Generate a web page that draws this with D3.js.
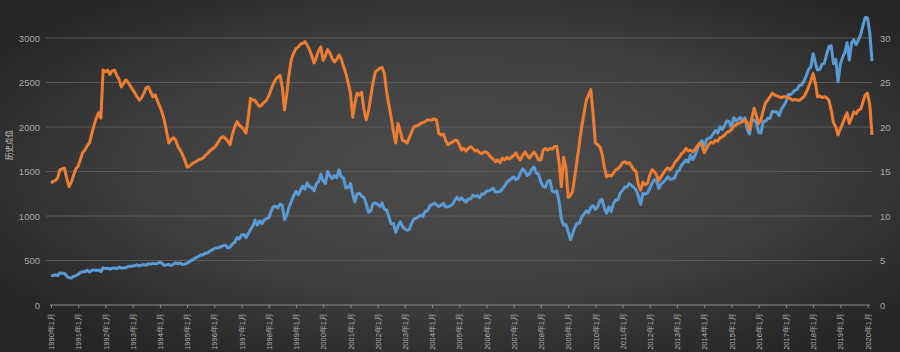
<!DOCTYPE html>
<html>
<head>
<meta charset="utf-8">
<script src="https://cdn.jsdelivr.net/npm/d3@7"></script>
<style>
  html, body { margin: 0; padding: 0; background: #2a2a2a; }
  svg { display: block; font-family: "Noto Sans CJK SC", "Noto Sans", sans-serif; }
</style>
</head>
<body>
<div id="chart"></div>
<script>
// --------------------------------------
//  Data
// --------------------------------------

// 标普500 月末点位 1990年1月 - 2020年3月
const indexLevel = [
  329, 331, 340, 331, 361, 358, 356, 323, 306, 304, 322, 330,
  344, 367, 375, 375, 390, 371, 388, 395, 388, 392, 375, 417,
  409, 413, 404, 415, 415, 408, 424, 414, 418, 419, 431, 436,
  439, 443, 452, 440, 450, 451, 448, 464, 459, 468, 462, 466,
  482, 467, 446, 451, 457, 444, 458, 475, 463, 472, 454, 459,
  470, 487, 501, 515, 533, 545, 562, 562, 584, 582, 605, 616,
  636, 641, 646, 654, 669, 671, 640, 652, 687, 705, 757, 741,
  786, 791, 757, 801, 848, 885, 954, 899, 947, 915, 955, 970,
  980, 1049, 1102, 1112, 1091, 1134, 1121, 957, 1017, 1099, 1164, 1229,
  1280, 1238, 1286, 1335, 1302, 1373, 1329, 1320, 1283, 1363, 1389, 1469,
  1394, 1366, 1499, 1452, 1421, 1455, 1431, 1518, 1437, 1429, 1315, 1320,
  1366, 1240, 1160, 1249, 1256, 1224, 1211, 1134, 1041, 1060, 1139, 1148,
  1130, 1107, 1147, 1076, 1067, 990, 912, 916, 815, 886, 936, 880,
  856, 841, 848, 917, 964, 975, 990, 1008, 996, 1051, 1058, 1112,
  1131, 1145, 1126, 1107, 1121, 1141, 1102, 1104, 1115, 1130, 1174, 1212,
  1181, 1204, 1181, 1157, 1192, 1191, 1234, 1220, 1229, 1207, 1249, 1248,
  1280, 1281, 1295, 1311, 1270, 1270, 1277, 1304, 1336, 1378, 1401, 1418,
  1438, 1407, 1421, 1482, 1531, 1503, 1455, 1474, 1527, 1549, 1481, 1468,
  1379, 1331, 1323, 1386, 1400, 1280, 1267, 1283, 1165, 969, 896, 903,
  826, 735, 798, 873, 919, 919, 987, 1021, 1057, 1036, 1096, 1115,
  1074, 1104, 1169, 1187, 1089, 1031, 1102, 1049, 1141, 1183, 1181, 1258,
  1286, 1327, 1326, 1364, 1345, 1321, 1292, 1219, 1131, 1253, 1247, 1258,
  1312, 1366, 1408, 1398, 1310, 1362, 1379, 1407, 1441, 1412, 1416, 1426,
  1498, 1515, 1569, 1598, 1631, 1606, 1686, 1633, 1682, 1757, 1806, 1848,
  1783, 1859, 1872, 1884, 1924, 1960, 1931, 2003, 1972, 2018, 2068, 2059,
  1995, 2105, 2068, 2086, 2107, 2063, 2104, 1972, 1920, 2079, 2080, 2044,
  1940, 1932, 2060, 2065, 2097, 2099, 2174, 2171, 2168, 2126, 2199, 2239,
  2279, 2364, 2363, 2384, 2412, 2423, 2470, 2472, 2519, 2575, 2648, 2674,
  2824, 2714, 2641, 2648, 2705, 2718, 2816, 2902, 2914, 2712, 2760, 2507,
  2704, 2784, 2834, 2946, 2752, 2942, 2980, 2926, 2977, 3038, 3141, 3231,
  3226, 3050, 2740
];

// 市盈率 (右轴)
const peRatio = [
  13.7, 13.9, 14.0, 14.3, 15.2, 15.3, 15.4, 14.2, 13.3, 13.8, 14.6, 15.3,
  15.6, 16.4, 17.1, 17.4, 17.9, 18.2, 19.2, 20.2, 21.0, 21.6, 21.0, 26.4,
  26.2, 26.4, 25.9, 26.3, 26.4, 25.8, 25.4, 24.5, 24.9, 25.3, 25.0, 24.6,
  24.2, 23.8, 23.4, 23.0, 23.3, 23.8, 24.4, 24.5, 23.9, 23.4, 23.6, 22.9,
  22.3, 21.6, 20.8, 19.5, 18.2, 18.6, 18.8, 18.5, 17.8, 17.4, 16.9, 16.3,
  15.5, 15.6, 15.8, 16.0, 16.1, 16.3, 16.4, 16.5, 16.8, 17.0, 17.3, 17.5,
  17.7, 18.0, 18.4, 18.8, 18.9, 18.7, 18.4, 18.0, 19.2, 20.0, 20.6, 20.2,
  20.0, 19.7, 19.3, 21.0, 23.2, 23.0, 23.0, 22.6, 22.3, 22.5, 22.8, 23.0,
  23.5, 24.2, 24.8, 25.3, 25.6, 25.8, 24.5, 21.9, 23.8, 26.0, 27.6, 28.3,
  28.8, 29.0, 29.3, 29.4, 29.6, 29.2, 28.7, 28.0, 27.2, 27.8, 28.6, 29.0,
  27.5, 28.0, 28.7, 28.3, 27.7, 27.3, 27.6, 28.1, 27.6, 26.8, 26.0, 25.0,
  23.8, 21.1, 22.6, 23.8, 23.6, 23.9, 22.0, 20.8, 21.8, 23.4, 25.0, 26.2,
  26.4, 26.6, 26.7, 26.0, 24.0, 22.5, 21.1, 19.5, 18.2, 20.4, 19.5, 18.5,
  18.4, 18.2, 18.8, 19.4, 20.0, 20.1, 20.2, 20.4, 20.5, 20.6, 20.8, 20.8,
  20.8, 20.9, 20.8, 19.3, 19.1, 19.2, 18.5, 18.0, 18.2, 18.3, 18.5, 18.5,
  18.0, 17.4, 17.6, 17.3, 17.6, 17.8, 17.6, 17.3, 17.4, 17.1, 17.0, 17.2,
  17.2, 16.9, 16.6, 16.4, 16.1, 16.3, 16.0, 16.5, 16.3, 16.6, 16.4, 16.6,
  16.8, 17.1, 16.6, 16.3, 16.8, 17.2, 16.8, 16.5, 16.9, 17.2, 16.8, 16.3,
  16.3, 17.4, 17.6, 17.4, 17.6, 17.5, 17.8, 17.8, 16.0, 13.3, 16.6, 15.5,
  12.1, 12.3, 12.8, 14.5, 16.3, 18.2, 20.0, 21.5, 23.0, 23.6, 24.2, 21.5,
  18.2, 18.0, 17.8, 17.0, 15.5, 14.4, 14.6, 14.5, 14.8, 15.2, 15.3, 15.6,
  16.0, 16.1, 15.9, 16.0, 15.6, 15.2, 15.0, 13.5, 12.9, 13.8, 13.5, 13.7,
  14.6, 15.2, 15.0, 14.6, 14.0, 14.4, 14.8, 15.2, 15.4, 15.2, 15.5, 16.0,
  16.3, 16.6, 17.0, 17.2, 17.6, 17.3, 17.4, 17.2, 17.5, 17.9, 18.2, 18.0,
  17.1, 17.6, 18.0, 18.3, 18.2, 18.5, 18.4, 18.8, 18.9, 19.1, 19.4, 19.5,
  19.7, 20.1, 20.2, 20.4, 20.5, 20.6, 20.8, 20.5, 19.7, 21.0, 22.1, 21.3,
  20.4, 20.8, 21.8, 22.7, 23.0, 23.4, 23.8, 23.6, 23.5, 23.4, 23.3, 23.4,
  23.4, 23.3, 23.2, 23.0, 23.1, 23.0, 23.0, 23.2, 23.4, 23.9, 24.5, 25.2,
  26.0, 24.9, 23.4, 23.5, 23.3, 23.4, 23.3, 23.0, 21.9, 20.5, 20.0, 19.1,
  19.8, 20.4, 21.0, 21.6, 20.4, 21.0, 21.7, 21.5, 21.9, 22.0, 22.8, 23.6,
  23.8, 22.4, 19.1
];

const leftTicks = [0, 500, 1000, 1500, 2000, 2500, 3000];
const rightTicks = [0, 5, 10, 15, 20, 25, 30];
const tickYears = d3.range(1990, 2021);
const leftTitle = "历史点位";

// --------------------------------------
//  Canvas
// --------------------------------------

const width = 900, height = 352;

const svg = d3.select("#chart")
  .append("svg")
    .attr("width", width)
    .attr("height", height)
    .attr("viewBox", [0, 0, width, height]);

const defs = svg.append("defs");
const grad = defs.append("radialGradient")
    .attr("id", "bg")
    .attr("cx", "52%").attr("cy", "48%")
    .attr("r", "62%");
grad.append("stop").attr("offset", "0%").attr("stop-color", "#4c4c4c");
grad.append("stop").attr("offset", "55%").attr("stop-color", "#404040");
grad.append("stop").attr("offset", "100%").attr("stop-color", "#262626");

svg.append("rect")
    .attr("width", width)
    .attr("height", height)
    .attr("fill", "url(#bg)");

// --------------------------------------
//  Scales
// --------------------------------------

const months = d3.timeMonth.range(new Date(1990, 0, 1), new Date(2020, 3, 1));

const x = d3.scaleTime()
    .domain([new Date(1990, 0, 1), new Date(2020, 2, 1)])
    .range([51, 872]);

const yL = d3.scaleLinear()
    .domain([0, 3000])
    .range([305, 38]);

const yR = d3.scaleLinear()
    .domain([0, 30])
    .range([305, 38]);

// --------------------------------------
//  Grid + axes
// --------------------------------------

svg.append("g")
    .selectAll("line")
    .data(leftTicks.filter(d => d > 0))
    .join("line")
    .attr("x1", 46).attr("x2", 872)
    .attr("y1", d => yL(d)).attr("y2", d => yL(d))
    .attr("stroke", "#5a5a5a")
    .attr("stroke-width", 1);

svg.append("g")
    .attr("transform", `translate(40, 0)`)
    .call(d3.axisLeft(yL).tickValues(leftTicks).tickFormat(d3.format("d")).tickSize(0).tickPadding(0))
    .call(g => g.select(".domain").remove())
    .call(g => g.selectAll("text")
        .attr("fill", "#a8a8a8")
        .style("font-size", "9.5px"));

svg.append("g")
    .attr("transform", `translate(880, 0)`)
    .call(d3.axisRight(yR).tickValues(rightTicks).tickFormat(d3.format("d")).tickSize(0).tickPadding(0))
    .call(g => g.select(".domain").remove())
    .call(g => g.selectAll("text")
        .attr("fill", "#a8a8a8")
        .style("font-size", "9.5px"));

const xAxis = svg.append("g")
    .attr("transform", `translate(0, ${yL(0)})`)
    .call(d3.axisBottom(x)
        .tickValues(tickYears.map(yr => new Date(yr, 0, 1)))
        .tickSize(3)
        .tickSizeOuter(0)
        .tickFormat(d => `${d.getFullYear()}年1月`));

xAxis.select(".domain")
    .attr("d", `M50,0H870`)
    .attr("stroke", "#8c8c8c");
xAxis.selectAll(".tick line").attr("stroke", "#8c8c8c");
xAxis.selectAll("text")
    .attr("fill", "#b0b0b0")
    .style("font-size", "7.5px")
    .attr("text-anchor", "end")
    .attr("transform", "rotate(-90)")
    .attr("x", -8)
    .attr("y", 0)
    .attr("dy", "0.35em");

svg.append("text")
    .attr("transform", `translate(9, 145) rotate(-90)`)
    .attr("text-anchor", "middle")
    .attr("dy", "0.35em")
    .attr("fill", "#cfcfcf")
    .style("font-size", "7.5px")
    .text(leftTitle);

// --------------------------------------
//  Lines
// --------------------------------------

const lineL = d3.line()
    .x((d, i) => x(months[i]))
    .y(d => yL(d));

const lineR = d3.line()
    .x((d, i) => x(months[i]))
    .y(d => yR(d));

svg.append("path")
    .datum(indexLevel)
    .attr("fill", "none")
    .attr("stroke", "#5b9bd5")
    .attr("stroke-width", 3)
    .attr("stroke-linejoin", "round")
    .attr("d", lineL);

svg.append("path")
    .datum(peRatio)
    .attr("fill", "none")
    .attr("stroke", "#ed7d31")
    .attr("stroke-width", 3)
    .attr("stroke-linejoin", "round")
    .attr("d", lineR);
</script>
</body>
</html>
